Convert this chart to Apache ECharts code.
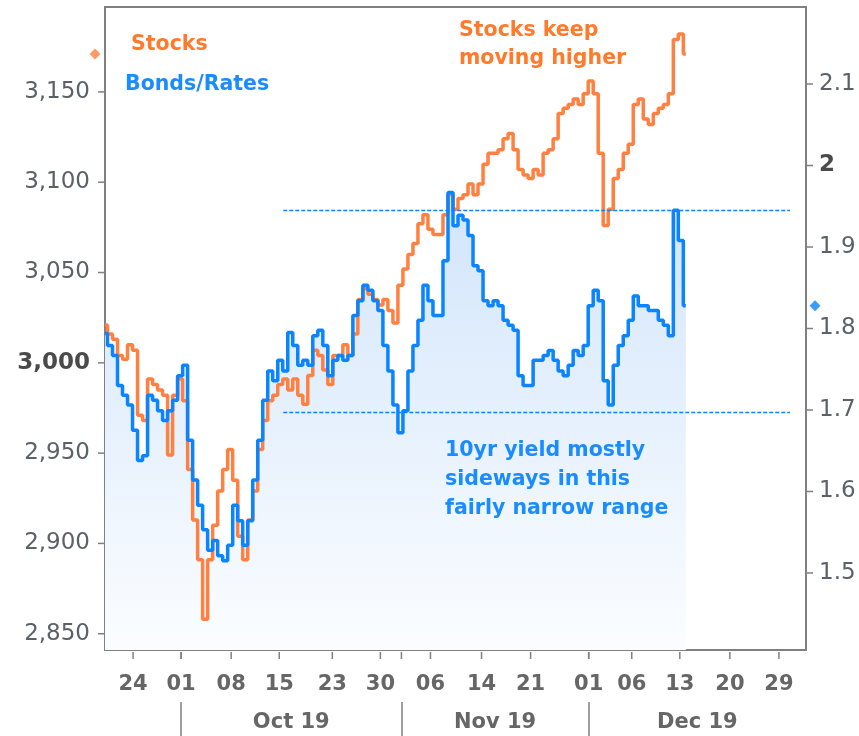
<!DOCTYPE html>
<html>
<head>
<meta charset="utf-8">
<script src="https://cdn.jsdelivr.net/npm/echarts@6/dist/echarts.min.js"></script>
<style>
  html, body { margin: 0; padding: 0; background: #fff; }
  #chart { width: 859px; height: 736px; }
</style>
</head>
<body>
<div id="chart"></div>
<script>
// S&P 500 vs 10yr yield, Sep-Dec 2019 (one point per half session)

// x runs in half-session steps, 0 = left edge of the plot
const X_MIN = 0;
const X_MAX = 140;

// day tick positions and labels
const dayTicks = [5.6, 15.2, 25.2, 34.8, 45.4, 55, 65, 75.2, 85, 96.6, 105.2, 114.8, 124.8, 134.6];
const dayLabels = ['24', '01', '08', '15', '23', '30', '06', '14', '21', '01', '06', '13', '20', '29'];

// month boundaries and labels
const monthStarts = [15.2, 59.2, 96.6];
const monthLabels = ['Oct 19', 'Nov 19', 'Dec 19'];

// left axis (stocks) and right axis (yield) ticks
const STOCK_MIN = 2841;
const STOCK_MAX = 3197;
const YIELD_MIN = 1.4055;
const YIELD_MAX = 2.1945;
const stockTicks = [2850, 2900, 2950, 3000, 3050, 3100, 3150];
const yieldTicks = [1.5, 1.6, 1.7, 1.8, 1.9, 2, 2.1];

// the two dashed range lines on the yield
const rangeLevels = [1.945, 1.697];
const rangeFrom = 35.6;
const rangeTo = 136.8;

// S&P 500
const stocks = [
  3021, 3016, 3013, 3004, 3002, 3010, 3007, 2971, 2968, 2991,
  2988, 2985, 2982, 2949, 2982, 2991, 2979, 2941, 2913, 2891,
  2858, 2891, 2910, 2929, 2941, 2952, 2935, 2904, 2891, 2913,
  2929, 2952, 2968, 2979, 2982, 2988, 2991, 2985, 2991, 2982,
  2977, 2993, 3007, 3004, 2996, 2988, 3004, 3004, 3010, 3004,
  3016, 3035, 3041, 3038, 3035, 3032, 3035, 3029, 3022, 3043,
  3052, 3060, 3066, 3077, 3082, 3074, 3071, 3071, 3082, 3093,
  3085, 3091, 3093, 3099, 3093, 3099, 3110, 3116, 3116, 3118,
  3124, 3127, 3118, 3107, 3104, 3102, 3107, 3104, 3116, 3118,
  3124, 3138, 3141, 3143, 3146, 3143, 3149, 3156, 3149, 3116,
  3076, 3085, 3102, 3107, 3116, 3121, 3143, 3146, 3135, 3132,
  3138, 3141, 3143, 3149, 3179, 3182, 3171
];

// US 10yr yield
const yields = [
  1.794, 1.779, 1.767, 1.730, 1.718, 1.706, 1.675, 1.638, 1.644, 1.718,
  1.712, 1.699, 1.687, 1.699, 1.712, 1.742, 1.755, 1.663, 1.614, 1.583,
  1.553, 1.528, 1.540, 1.521, 1.515, 1.534, 1.583, 1.564, 1.534, 1.564,
  1.614, 1.663, 1.712, 1.748, 1.736, 1.761, 1.748, 1.795, 1.779, 1.755,
  1.761, 1.755, 1.791, 1.798, 1.779, 1.742, 1.761, 1.767, 1.761, 1.767,
  1.816, 1.834, 1.853, 1.847, 1.834, 1.822, 1.779, 1.748, 1.706, 1.672,
  1.699, 1.748, 1.779, 1.810, 1.853, 1.834, 1.816, 1.816, 1.883, 1.967,
  1.926, 1.939, 1.933, 1.914, 1.877, 1.871, 1.834, 1.828, 1.834, 1.828,
  1.810, 1.804, 1.798, 1.742, 1.730, 1.730, 1.761, 1.761, 1.767, 1.773,
  1.761, 1.748, 1.742, 1.755, 1.773, 1.767, 1.779, 1.828, 1.847, 1.834,
  1.736, 1.706, 1.755, 1.779, 1.791, 1.810, 1.840, 1.828, 1.828, 1.822,
  1.822, 1.810, 1.804, 1.791, 1.945, 1.908, 1.828
];

const ORANGE = '#ff8040';
const ORANGE_TEXT = '#ff7a2a';
const BLUE = '#0a84ff';
const BLUE_TEXT = '#1a8cff';
const AXIS_GREY = '#808080';
const LABEL_GREY = '#5c6168';
const FONT = '"DejaVu Sans", Verdana, sans-serif';
const TICK_LEN = 7;

// small tick marks drawn through the axes' own scales
function tickSeries(values, yAxisIndex, toPoint, dir) {
    return {
        type: 'custom',
        yAxisIndex: yAxisIndex,
        silent: true,
        clip: false,
        z: 5,
        data: values.map(toPoint),
        renderItem: function (params, api) {
            const p = api.coord([api.value(0), api.value(1)]);
            let shape;
            if (dir === 'left') shape = { x1: p[0] - TICK_LEN, y1: p[1], x2: p[0], y2: p[1] };
            else if (dir === 'right') shape = { x1: p[0], y1: p[1], x2: p[0] + TICK_LEN, y2: p[1] };
            else shape = { x1: p[0], y1: p[1] + 2, x2: p[0], y2: p[1] + 2 + TICK_LEN };
            return { type: 'line', shape: shape, style: { stroke: AXIS_GREY, lineWidth: 1.5 } };
        }
    };
}

function initChart() {
    const chart = echarts.init(document.getElementById('chart'));

    const stockPts = stocks.map(function (v, i) { return [i, v]; });
    const yieldPts = yields.map(function (v, i) { return [i, v]; });

    // month label sits in the middle of its month
    const monthCenters = monthStarts.map(function (s, i) {
        const e = i + 1 < monthStarts.length ? monthStarts[i + 1] : X_MAX;
        return (s + e) / 2;
    });

    const option = {
        backgroundColor: '#fff',
        animation: false,
        grid: {
            left: 105, right: 53, top: 7, bottom: 86,
            show: true,
            borderColor: AXIS_GREY,
            borderWidth: 2,
            backgroundColor: 'transparent'
        },
        xAxis: [
            {
                type: 'value',
                min: X_MIN, max: X_MAX,
                position: 'bottom',
                splitLine: { show: false },
                axisLine: { lineStyle: { color: AXIS_GREY, width: 2 } },
                axisTick: { show: false },
                axisLabel: {
                    customValues: dayTicks,
                    margin: 24,
                    color: '#666',
                    fontFamily: FONT,
                    fontWeight: 'bold',
                    fontSize: 21,
                    formatter: function (v) {
                        const i = dayTicks.indexOf(v);
                        return i >= 0 ? dayLabels[i] : '';
                    }
                }
            },
            {
                type: 'value',
                min: X_MIN, max: X_MAX,
                position: 'bottom',
                offset: 52,
                splitLine: { show: false },
                axisLine: { show: false },
                axisTick: {
                    show: true, length: 34,
                    customValues: monthStarts,
                    lineStyle: { color: AXIS_GREY, width: 1.5 }
                },
                axisLabel: {
                    customValues: monthCenters,
                    margin: 10,
                    color: '#666',
                    fontFamily: FONT,
                    fontWeight: 'bold',
                    fontSize: 21,
                    formatter: function (v) {
                        const i = monthCenters.indexOf(v);
                        return i >= 0 ? monthLabels[i] : '';
                    }
                }
            }
        ],
        yAxis: [
            {
                type: 'value',
                position: 'left',
                min: STOCK_MIN, max: STOCK_MAX,
                splitLine: { show: false },
                axisLine: { show: true, lineStyle: { color: AXIS_GREY, width: 2 } },
                axisTick: { show: false },
                axisLabel: {
                    customValues: stockTicks,
                    margin: 15,
                    color: LABEL_GREY,
                    fontFamily: FONT,
                    fontSize: 23,
                    formatter: function (v) {
                        const s = v.toLocaleString('en-US');
                        return v === 3000 ? '{b|' + s + '}' : s;
                    },
                    rich: {
                        b: { fontFamily: FONT, fontSize: 23, fontWeight: 'bold', color: '#4a4a4a' }
                    }
                }
            },
            {
                type: 'value',
                position: 'right',
                min: YIELD_MIN, max: YIELD_MAX,
                splitLine: { show: false },
                axisLine: { show: true, lineStyle: { color: AXIS_GREY, width: 2 } },
                axisTick: { show: false },
                axisLabel: {
                    customValues: yieldTicks,
                    margin: 13,
                    color: LABEL_GREY,
                    fontFamily: FONT,
                    fontSize: 23,
                    formatter: function (v) {
                        return v === 2 ? '{b|2}' : String(v);
                    },
                    rich: {
                        b: { fontFamily: FONT, fontSize: 23, fontWeight: 'bold', color: '#4a4a4a' }
                    }
                }
            }
        ],
        series: [
            {
                // shaded area under the yield, drawn under both lines
                name: 'yield area',
                type: 'line',
                yAxisIndex: 1,
                data: yieldPts,
                step: 'middle',
                symbol: 'none',
                lineStyle: { width: 0 },
                areaStyle: {
                    origin: 'start',
                    opacity: 1,
                    color: {
                        type: 'linear', x: 0, y: 0, x2: 0, y2: 1,
                        colorStops: [
                            { offset: 0, color: '#d2e5fb' },
                            { offset: 1, color: '#fbfdff' }
                        ]
                    }
                },
                z: 1
            },
            {
                name: 'Stocks',
                type: 'line',
                yAxisIndex: 0,
                data: stockPts,
                step: 'middle',
                symbol: 'none',
                lineStyle: { color: ORANGE, width: 3.5 },
                z: 2
            },
            {
                name: 'Bonds/Rates',
                type: 'line',
                yAxisIndex: 1,
                data: yieldPts,
                step: 'middle',
                symbol: 'none',
                lineStyle: { color: BLUE, width: 3.5 },
                markLine: {
                    silent: true,
                    symbol: 'none',
                    label: { show: false },
                    lineStyle: { color: BLUE, width: 1.3, type: [4, 2] },
                    data: rangeLevels.map(function (lv) {
                        return [{ coord: [rangeFrom, lv] }, { coord: [rangeTo, lv] }];
                    })
                },
                z: 3
            },
            {
                // last-value diamond on the stock axis
                type: 'scatter',
                yAxisIndex: 0,
                clip: false,
                symbol: 'diamond',
                symbolSize: 11,
                itemStyle: { color: ORANGE },
                data: [[X_MIN - 2, stocks[stocks.length - 1]]],
                z: 4
            },
            {
                // last-value diamond on the yield axis
                type: 'scatter',
                yAxisIndex: 1,
                clip: false,
                symbol: 'diamond',
                symbolSize: 11,
                itemStyle: { color: BLUE },
                data: [[X_MAX + 1.8, yields[yields.length - 1]]],
                z: 4
            },
            tickSeries(stockTicks, 0, function (v) { return [X_MIN, v]; }, 'left'),
            tickSeries(yieldTicks, 1, function (v) { return [X_MAX, v]; }, 'right'),
            tickSeries(dayTicks.concat(monthStarts), 0, function (v) { return [v, STOCK_MIN]; }, 'down')
        ],
        graphic: [
            {
                type: 'text', left: 131, top: 34, z: 20,
                style: { text: 'Stocks', fill: ORANGE_TEXT, font: 'bold 20.5px ' + FONT }
            },
            {
                type: 'text', left: 125, top: 74, z: 20,
                style: { text: 'Bonds/Rates', fill: BLUE_TEXT, font: 'bold 20.5px ' + FONT }
            },
            {
                type: 'text', left: 459, top: 17, z: 20,
                style: { text: 'Stocks keep\nmoving higher', fill: ORANGE_TEXT, font: 'bold 20.5px ' + FONT, lineHeight: 28 }
            },
            {
                type: 'text', left: 445, top: 436, z: 20,
                style: { text: '10yr yield mostly\nsideways in this\nfairly narrow range', fill: BLUE_TEXT, font: 'bold 20.5px ' + FONT, lineHeight: 29 }
            }
        ]
    };

    chart.setOption(option);
    return chart;
}

document.addEventListener('DOMContentLoaded', function () {
    if (typeof echarts !== 'undefined') {
        initChart();
    } else {
        console.error('ECharts library not loaded');
    }
});
</script>
</body>
</html>
